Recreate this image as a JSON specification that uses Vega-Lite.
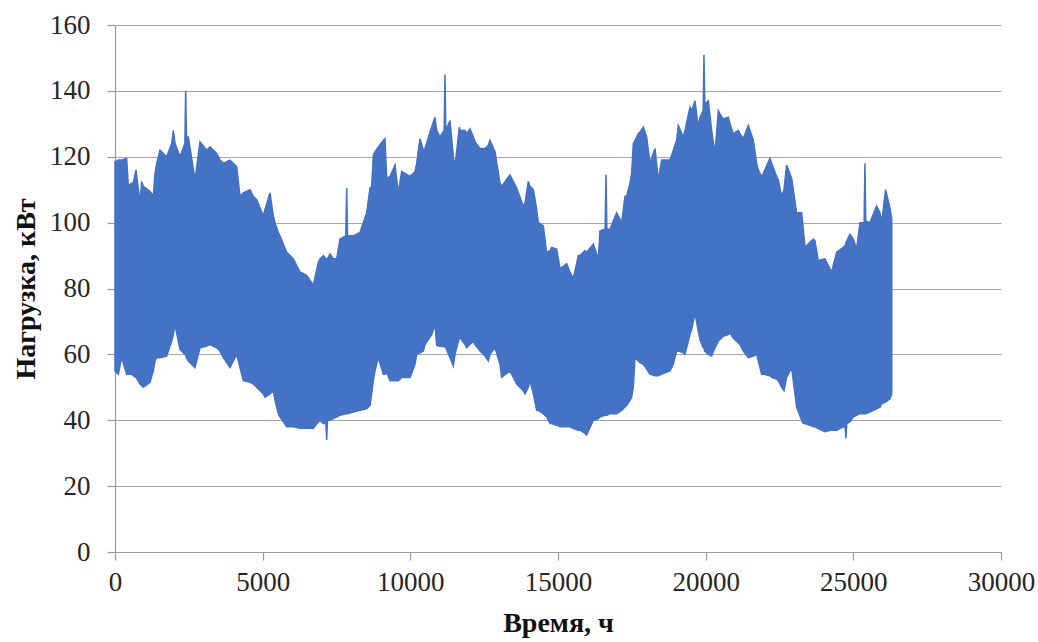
{
  "$schema": "https://vega.github.io/schema/vega-lite/v6.json",
  "width": 886,
  "height": 527,
  "autosize": {"type": "none"},
  "padding": {"left": 115, "top": 25, "right": 37, "bottom": 90},
  "background": "white",
  "config": {
    "view": {"stroke": null},
    "axis": {
      "labelFont": "Liberation Serif",
      "titleFont": "Liberation Serif",
      "labelFontSize": 27,
      "titleFontSize": 28,
      "titleFontWeight": "bold",
      "labelColor": "#262626",
      "titleColor": "#111111",
      "domainColor": "#9a9a9a",
      "tickColor": "#9a9a9a",
      "gridColor": "#a6a6a6",
      "gridWidth": 1.2,
      "domainWidth": 1.2,
      "tickWidth": 1.2,
      "tickSize": 8,
      "labelFlush": false,
      "labelOverlap": false
    }
  },
  "data": {
    "values": [
      {"t": 0, "hi": 118.5, "lo": 55},
      {"t": 113, "hi": 119, "lo": 54},
      {"t": 226, "hi": 119, "lo": 59},
      {"t": 395, "hi": 119.5, "lo": 54},
      {"t": 451, "hi": 111, "lo": 54},
      {"t": 564, "hi": 112, "lo": 54},
      {"t": 621, "hi": 112, "lo": 53.5},
      {"t": 711, "hi": 116, "lo": 53},
      {"t": 846, "hi": 106, "lo": 51},
      {"t": 903, "hi": 112.5, "lo": 50.5},
      {"t": 959, "hi": 111, "lo": 50},
      {"t": 1185, "hi": 109.5, "lo": 51.5},
      {"t": 1298, "hi": 108, "lo": 55},
      {"t": 1354, "hi": 115, "lo": 58},
      {"t": 1411, "hi": 118, "lo": 59},
      {"t": 1524, "hi": 122, "lo": 59},
      {"t": 1749, "hi": 120, "lo": 59.5},
      {"t": 1919, "hi": 124, "lo": 64},
      {"t": 1975, "hi": 128, "lo": 66},
      {"t": 2032, "hi": 124, "lo": 69},
      {"t": 2201, "hi": 120, "lo": 61.5},
      {"t": 2365, "hi": 124, "lo": 60},
      {"t": 2393, "hi": 140, "lo": 60},
      {"t": 2420, "hi": 126, "lo": 59},
      {"t": 2483, "hi": 126, "lo": 58},
      {"t": 2709, "hi": 113, "lo": 56},
      {"t": 2878, "hi": 124.5, "lo": 62},
      {"t": 3104, "hi": 122, "lo": 62.5},
      {"t": 3217, "hi": 123, "lo": 63},
      {"t": 3442, "hi": 121, "lo": 62},
      {"t": 3555, "hi": 119, "lo": 61},
      {"t": 3668, "hi": 118, "lo": 59},
      {"t": 3894, "hi": 119, "lo": 56},
      {"t": 4120, "hi": 117, "lo": 60},
      {"t": 4233, "hi": 108, "lo": 56},
      {"t": 4345, "hi": 109, "lo": 52},
      {"t": 4571, "hi": 110, "lo": 51.5},
      {"t": 4684, "hi": 108, "lo": 51},
      {"t": 4797, "hi": 107, "lo": 50},
      {"t": 5023, "hi": 102, "lo": 48},
      {"t": 5079, "hi": 104, "lo": 47},
      {"t": 5248, "hi": 109, "lo": 48},
      {"t": 5361, "hi": 102, "lo": 49},
      {"t": 5418, "hi": 100, "lo": 46},
      {"t": 5531, "hi": 97, "lo": 42},
      {"t": 5587, "hi": 96, "lo": 41},
      {"t": 5813, "hi": 91, "lo": 38},
      {"t": 6039, "hi": 89, "lo": 38},
      {"t": 6264, "hi": 85, "lo": 37.6},
      {"t": 6490, "hi": 84, "lo": 37.6},
      {"t": 6716, "hi": 81, "lo": 37.6},
      {"t": 6885, "hi": 88, "lo": 39.5},
      {"t": 6942, "hi": 89, "lo": 40},
      {"t": 7054, "hi": 90, "lo": 39},
      {"t": 7140, "hi": 89, "lo": 39},
      {"t": 7167, "hi": 89, "lo": 34},
      {"t": 7195, "hi": 89, "lo": 40},
      {"t": 7280, "hi": 90.5, "lo": 40},
      {"t": 7393, "hi": 89, "lo": 40.6},
      {"t": 7506, "hi": 89, "lo": 41},
      {"t": 7619, "hi": 95, "lo": 41.5},
      {"t": 7815, "hi": 96, "lo": 42},
      {"t": 7844, "hi": 110.5, "lo": 42},
      {"t": 7875, "hi": 96, "lo": 42},
      {"t": 8070, "hi": 96, "lo": 42.5},
      {"t": 8296, "hi": 97, "lo": 43},
      {"t": 8521, "hi": 103, "lo": 43.5},
      {"t": 8634, "hi": 110.5, "lo": 44.5},
      {"t": 8691, "hi": 111, "lo": 48},
      {"t": 8747, "hi": 120.5, "lo": 52},
      {"t": 8804, "hi": 121.5, "lo": 55},
      {"t": 8916, "hi": 123, "lo": 59},
      {"t": 9086, "hi": 125, "lo": 54},
      {"t": 9142, "hi": 125.5, "lo": 54},
      {"t": 9199, "hi": 113.5, "lo": 54.5},
      {"t": 9312, "hi": 114, "lo": 52},
      {"t": 9481, "hi": 117.5, "lo": 52},
      {"t": 9594, "hi": 109, "lo": 52},
      {"t": 9707, "hi": 115.5, "lo": 53},
      {"t": 9989, "hi": 114, "lo": 53},
      {"t": 10158, "hi": 115.5, "lo": 57},
      {"t": 10215, "hi": 118, "lo": 60},
      {"t": 10327, "hi": 125.5, "lo": 60.5},
      {"t": 10440, "hi": 122, "lo": 61},
      {"t": 10497, "hi": 122.5, "lo": 63},
      {"t": 10722, "hi": 129, "lo": 66},
      {"t": 10835, "hi": 132, "lo": 69},
      {"t": 10892, "hi": 128, "lo": 62.7},
      {"t": 11004, "hi": 126, "lo": 62.5},
      {"t": 11145, "hi": 128, "lo": 62.3},
      {"t": 11173, "hi": 145, "lo": 62.3},
      {"t": 11200, "hi": 128, "lo": 62},
      {"t": 11343, "hi": 131, "lo": 59},
      {"t": 11456, "hi": 120, "lo": 56.5},
      {"t": 11512, "hi": 117, "lo": 60},
      {"t": 11659, "hi": 129, "lo": 65},
      {"t": 11682, "hi": 128, "lo": 65},
      {"t": 11851, "hi": 128, "lo": 63},
      {"t": 11907, "hi": 127, "lo": 62},
      {"t": 12020, "hi": 128.5, "lo": 63},
      {"t": 12133, "hi": 126, "lo": 64},
      {"t": 12190, "hi": 124.5, "lo": 63},
      {"t": 12359, "hi": 122.5, "lo": 61},
      {"t": 12528, "hi": 122.5, "lo": 59.5},
      {"t": 12641, "hi": 123.5, "lo": 58},
      {"t": 12697, "hi": 125, "lo": 60},
      {"t": 12867, "hi": 121.5, "lo": 62},
      {"t": 13036, "hi": 112, "lo": 57},
      {"t": 13092, "hi": 111, "lo": 53},
      {"t": 13375, "hi": 114.5, "lo": 55},
      {"t": 13601, "hi": 110.5, "lo": 51},
      {"t": 13826, "hi": 105, "lo": 49},
      {"t": 13883, "hi": 106, "lo": 48},
      {"t": 13995, "hi": 112.5, "lo": 50},
      {"t": 14052, "hi": 111, "lo": 52},
      {"t": 14165, "hi": 110, "lo": 48},
      {"t": 14278, "hi": 104, "lo": 43},
      {"t": 14334, "hi": 100, "lo": 43},
      {"t": 14503, "hi": 99, "lo": 42},
      {"t": 14616, "hi": 91, "lo": 41},
      {"t": 14729, "hi": 91.5, "lo": 39},
      {"t": 14785, "hi": 92.5, "lo": 39},
      {"t": 14955, "hi": 92, "lo": 38.5},
      {"t": 15068, "hi": 86, "lo": 38},
      {"t": 15293, "hi": 87.5, "lo": 38},
      {"t": 15406, "hi": 85, "lo": 38},
      {"t": 15519, "hi": 83, "lo": 37.5},
      {"t": 15688, "hi": 90, "lo": 37},
      {"t": 15745, "hi": 90, "lo": 37},
      {"t": 15914, "hi": 91.5, "lo": 36},
      {"t": 15970, "hi": 91, "lo": 35.5},
      {"t": 16196, "hi": 93.5, "lo": 40},
      {"t": 16365, "hi": 89, "lo": 40.5},
      {"t": 16422, "hi": 97.5, "lo": 41},
      {"t": 16595, "hi": 98, "lo": 41.5},
      {"t": 16625, "hi": 114.5, "lo": 41.5},
      {"t": 16655, "hi": 98, "lo": 41.5},
      {"t": 16760, "hi": 98, "lo": 42},
      {"t": 16986, "hi": 103, "lo": 42},
      {"t": 17155, "hi": 100, "lo": 43},
      {"t": 17268, "hi": 108, "lo": 44},
      {"t": 17324, "hi": 108, "lo": 44.5},
      {"t": 17437, "hi": 112, "lo": 46},
      {"t": 17494, "hi": 115, "lo": 47},
      {"t": 17550, "hi": 124, "lo": 50},
      {"t": 17606, "hi": 125, "lo": 59},
      {"t": 17719, "hi": 127, "lo": 58},
      {"t": 17776, "hi": 127.5, "lo": 57.5},
      {"t": 17889, "hi": 129, "lo": 57},
      {"t": 18002, "hi": 126, "lo": 55.5},
      {"t": 18114, "hi": 118, "lo": 54},
      {"t": 18284, "hi": 122.5, "lo": 53.5},
      {"t": 18397, "hi": 113, "lo": 53.5},
      {"t": 18510, "hi": 119, "lo": 54},
      {"t": 18792, "hi": 119, "lo": 55},
      {"t": 18905, "hi": 122, "lo": 57},
      {"t": 19018, "hi": 125, "lo": 61},
      {"t": 19074, "hi": 129.5, "lo": 61},
      {"t": 19243, "hi": 126, "lo": 60.5},
      {"t": 19300, "hi": 128, "lo": 60},
      {"t": 19469, "hi": 135, "lo": 66},
      {"t": 19525, "hi": 134, "lo": 67.5},
      {"t": 19638, "hi": 137, "lo": 72.5},
      {"t": 19751, "hi": 129, "lo": 67},
      {"t": 19807, "hi": 132, "lo": 64.5},
      {"t": 19915, "hi": 134, "lo": 62},
      {"t": 19943, "hi": 151, "lo": 62},
      {"t": 19970, "hi": 136, "lo": 61},
      {"t": 20090, "hi": 137, "lo": 60},
      {"t": 20202, "hi": 128, "lo": 59.5},
      {"t": 20315, "hi": 121, "lo": 62},
      {"t": 20428, "hi": 134, "lo": 64},
      {"t": 20484, "hi": 133, "lo": 64.5},
      {"t": 20597, "hi": 131.5, "lo": 65.5},
      {"t": 20766, "hi": 132, "lo": 66},
      {"t": 20823, "hi": 130, "lo": 66.5},
      {"t": 20936, "hi": 127, "lo": 65},
      {"t": 21105, "hi": 128, "lo": 63.5},
      {"t": 21161, "hi": 127, "lo": 63},
      {"t": 21274, "hi": 125.5, "lo": 61},
      {"t": 21444, "hi": 129.5, "lo": 59},
      {"t": 21613, "hi": 125, "lo": 59.5},
      {"t": 21726, "hi": 118, "lo": 60},
      {"t": 21782, "hi": 116, "lo": 58},
      {"t": 21896, "hi": 114, "lo": 54},
      {"t": 21952, "hi": 115, "lo": 54},
      {"t": 22177, "hi": 119.5, "lo": 53.5},
      {"t": 22234, "hi": 118, "lo": 53},
      {"t": 22403, "hi": 114, "lo": 52.5},
      {"t": 22460, "hi": 113, "lo": 52},
      {"t": 22572, "hi": 108, "lo": 50},
      {"t": 22652, "hi": 110, "lo": 49},
      {"t": 22741, "hi": 117.5, "lo": 53},
      {"t": 22911, "hi": 113.5, "lo": 56},
      {"t": 23080, "hi": 103, "lo": 44},
      {"t": 23249, "hi": 103, "lo": 40},
      {"t": 23306, "hi": 98, "lo": 39},
      {"t": 23362, "hi": 92.5, "lo": 39},
      {"t": 23531, "hi": 94, "lo": 38.5},
      {"t": 23644, "hi": 95, "lo": 38},
      {"t": 23701, "hi": 94.5, "lo": 38},
      {"t": 23814, "hi": 88.5, "lo": 37.5},
      {"t": 24039, "hi": 89, "lo": 36.5},
      {"t": 24265, "hi": 85, "lo": 37},
      {"t": 24434, "hi": 91, "lo": 37},
      {"t": 24660, "hi": 92.5, "lo": 38},
      {"t": 24722, "hi": 93, "lo": 38},
      {"t": 24750, "hi": 94, "lo": 34.5},
      {"t": 24778, "hi": 94.5, "lo": 39},
      {"t": 24886, "hi": 96.5, "lo": 39.5},
      {"t": 24999, "hi": 95, "lo": 41},
      {"t": 25111, "hi": 92, "lo": 41.5},
      {"t": 25224, "hi": 100, "lo": 42},
      {"t": 25365, "hi": 100, "lo": 42},
      {"t": 25393, "hi": 118, "lo": 42},
      {"t": 25420, "hi": 100.5, "lo": 42},
      {"t": 25562, "hi": 100, "lo": 42.5},
      {"t": 25788, "hi": 105, "lo": 43.5},
      {"t": 25901, "hi": 103, "lo": 44},
      {"t": 25957, "hi": 100, "lo": 45},
      {"t": 26092, "hi": 110, "lo": 45.5},
      {"t": 26239, "hi": 104.5, "lo": 46.5},
      {"t": 26300, "hi": 101, "lo": 48}
    ]
  },
  "mark": {"type": "area", "color": "#4472C4", "stroke": "#4472C4", "strokeWidth": 1.5, "fillOpacity": 1},
  "encoding": {
    "x": {
      "field": "t",
      "type": "quantitative",
      "title": "Время, ч",
      "scale": {"domain": [0, 30000], "nice": false},
      "axis": {
        "values": [0, 5000, 10000, 15000, 20000, 25000, 30000],
        "format": "d",
        "grid": false,
        "labelPadding": 9,
        "titlePadding": 14
      }
    },
    "y": {
      "field": "hi",
      "type": "quantitative",
      "title": "Нагрузка, кВт",
      "scale": {"domain": [0, 160], "nice": false},
      "axis": {
        "values": [0, 20, 40, 60, 80, 100, 120, 140, 160],
        "grid": true,
        "labelPadding": 17,
        "titlePadding": 9
      }
    },
    "y2": {"field": "lo"}
  }
}
